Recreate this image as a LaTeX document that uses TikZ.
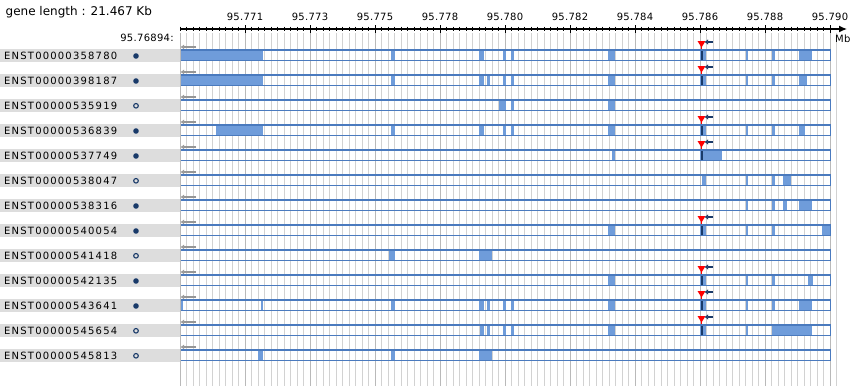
\documentclass[tikz,border=0pt]{standalone}
\usepackage{fontspec}
\setmainfont{DejaVu Sans}
\newfontfamily\labelfont[LetterSpace=12]{DejaVu Sans}
\newfontfamily\tickfont[LetterSpace=3]{DejaVu Sans}
\usetikzlibrary{arrows.meta}
\definecolor{exoncolor}{RGB}{111,156,218}
\definecolor{trackcolor}{RGB}{74,122,190}
\definecolor{navycolor}{RGB}{25,58,105}
\definecolor{gridcolor}{RGB}{210,210,210}
\definecolor{majorcolor}{RGB}{185,185,185}
\definecolor{labelcolor}{RGB}{221,221,221}
\definecolor{strandcolor}{RGB}{150,150,150}
\tikzstyle{exon} = [fill=exoncolor]
\tikzstyle{track} = [draw=trackcolor, line width=1.1pt]
\tikzstyle{rowlabel} = [anchor=base west, inner sep=0pt, font=\labelfont\fontsize{10pt}{12pt}\selectfont]
\tikzstyle{ticklabel} = [anchor=base, inner sep=0pt, font=\tickfont\fontsize{10pt}{12pt}\selectfont]
\tikzstyle{fulldot} = [circle, fill=navycolor, inner sep=0pt, minimum size=5.6pt]
\tikzstyle{opendot} = [circle, draw=navycolor, line width=1.1pt, inner sep=0pt, minimum size=4.6pt]
\tikzstyle{strand} = [draw=strandcolor, line width=1.1pt, -{Latex[length=3.5pt,width=5pt]}]
\tikzstyle{tss} = [draw=navycolor, line width=1.4pt, -{Latex[length=3.5pt,width=5.5pt]}]

\begin{document}
\begin{tikzpicture}[x=1pt, y=-1pt]
        \useasboundingbox (0,0) rectangle (860,386);

        %Grid
        \foreach \k in {0,...,101}
            \draw [gridcolor, line width=1pt] (180+6.5*\k,33) -- (180+6.5*\k,386);
        \foreach \k in {0,...,10}
            \draw [majorcolor, line width=1pt] (180+65*\k,33) -- (180+65*\k,386);

        %Axis
        \coordinate (axisL) at (180,29);
        \coordinate (axisR) at (847,29);
        \draw [line width=1.3pt, -{Latex[length=8pt,width=7pt]}] (axisL) -- (axisR);
        \foreach \k in {0,...,100}
            \draw [line width=0.8pt] (180+6.5*\k,26.7) -- (180+6.5*\k,31.3);
        \foreach \k in {1,...,10}
            \draw [line width=1pt] (180+65*\k,25) -- (180+65*\k,32.5);
        \foreach \k/\lab in {1/95.771, 2/95.773, 3/95.775, 4/95.778, 5/95.780,
                             6/95.782, 7/95.784, 8/95.786, 9/95.788, 10/95.790}
            \node (tick\k) [ticklabel] at (180+65*\k,20.7) {\lab};
        \node (unit) [ticklabel, anchor=base west] at (835,42.7) {Mb};
        \node (start) [ticklabel, anchor=base east] at (174,41) {95.76894:};
        \node (title) [anchor=base west, inner sep=0pt, font=\fontsize{12pt}{14pt}\selectfont] at (5.5,15.7) {gene length : 21.467 Kb};

        %Transcripts
        \foreach \i/\id/\full/\mk/\ex in {
            1/358780/1/1/{181/263,391/395,479/484,503/506,511/514,608/615,700/706,746/748,772/775,799/812},
            2/398187/1/1/{181/263,391/395,479/484,487/490,503/506,511/514,608/615,700/706,746/748,772/775,799/807},
            3/535919/0/0/{499/506,511/514,608/615},
            4/536839/1/1/{216/263,391/395,479/484,503/506,511/514,608/615,700/706,746/748,772/775,799/805},
            5/537749/1/1/{612/615,700/722},
            6/538047/0/0/{702/706,746/748,772/775,783/791},
            7/538316/1/0/{746/748,772/775,783/787,799/812},
            8/540054/1/1/{608/615,700/706,746/748,772/775,822/830.5},
            9/541418/0/0/{389/395,479/492},
            10/542135/1/1/{608/615,700/706,746/748,772/775,808/813},
            11/543641/1/1/{181/182.5,261/263,391/395,479/484,487/490,503/506,511/514,608/615,700/706,746/748,772/775,799/812},
            12/545654/0/1/{480/484,487/490,503/506,511/514,608/615,700/706,746/748,772/812},
            13/545813/0/0/{258/263,391/395,479/492}} {
            \pgfmathsetmacro\yc{30+25*\i}
            % label
            \fill [labelcolor] (0,\yc-6) rectangle (180,\yc+6.8);
            \node (lab\i) [rowlabel] at (4,\yc+4.3) {ENST00000\id};
            \ifnum\full=1
                \node (dot\i) [fulldot] at (136,\yc+1) {};
            \else
                \node (dot\i) [opendot] at (136,\yc+0.8) {};
            \fi
            % strand
            \coordinate (sA\i) at (196,\yc-8);
            \coordinate (sB\i) at (180.5,\yc-8);
            \draw [strand] (sA\i) -- (sB\i);
            % exons
            \foreach \a/\b in \ex
                \fill [exon] (\a,\yc-5) rectangle (\b,\yc+5.2);
            % start codon
            \ifnum\mk=1
                \fill [navycolor] (700.5,\yc-5) rectangle (703,\yc+5.2);
                \fill [red] (697.5,\yc-14) -- (705.5,\yc-14) -- (701.5,\yc-7.5) -- cycle;
                \draw [red, line width=1pt] (701.5,\yc-9) -- (701.5,\yc-5.5);
                \coordinate (tA\i) at (712.5,\yc-13);
                \coordinate (tB\i) at (704.5,\yc-13);
                \draw [tss] (tA\i) -- (tB\i);
            \fi
            \draw [track] (181,\yc-5) -- (830.5,\yc-5) -- (830.5,\yc+5.2) -- (181,\yc+5.2);
        }

\end{tikzpicture}
\end{document}
